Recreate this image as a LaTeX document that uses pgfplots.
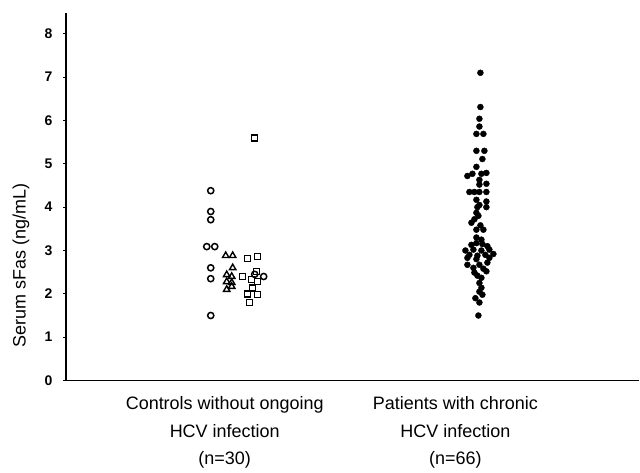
\documentclass[border=0pt]{standalone}
\usepackage{pgfplots}
\pgfplotsset{compat=1.18}
\usepackage{fontspec}
\setmainfont{Liberation Sans}
\begin{document}
\begin{tikzpicture}
\begin{axis}[
  scale only axis,
  width=574pt, height=368pt,
  xmin=66, xmax=640, ymin=0, ymax=8.48,
  axis x line=bottom, axis y line=left,
  axis line style={-, line width=1.6pt},
  ytick={0,1,2,3,4,5,6,7,8},
  yticklabel style={font=\fontsize{14}{14}\selectfont\bfseries, xshift=-7pt},
  /pgf/number format/assume math mode=true,
  y tick style={line width=1.2pt, black},
  tick align=outside, major tick length=3pt,
  xtick={225,456},
  xticklabels={{Controls without ongoing\\HCV infection\\(n=30)},{Patients with chronic\\HCV infection\\(n=66)}},
  x tick style={draw=none},
  xticklabel style={align=center, font=\fontsize{18}{28}\selectfont, yshift=-9pt},
  ylabel={Serum sFas (ng/mL)},
  ylabel style={at={(axis description cs:0,0.3125)}, anchor=center, yshift=45pt, font=\fontsize{18}{18}\selectfont},
  clip=false,
]
% controls: circles
\addplot[only marks, mark=o, mark size=3.1pt, mark options={line width=1.5pt, black}] coordinates {
(211,4.38) (211,3.9) (211,3.71) (207,3.09) (215,3.09) (211,2.6) (211,2.35) (211,1.5)
(264,2.4) (255,2.45)
};
% controls: triangles
\addplot[only marks, mark=triangle, mark size=3.7pt, mark options={line width=1.4pt, black}] coordinates {
(226,2.88) (233,2.88) (233,2.6) (227,2.44) (232,2.4) (227,2.28) (232,2.26) (227,2.1) (232,2.17)
};
% controls: squares
\addplot[only marks, mark=square, mark size=3pt, mark options={line width=1.5pt, black}] coordinates {
(255,5.6) (248,2.81) (258,2.86) (243,2.4) (257,2.51) (252,2.33) (258,2.28) (253,2.14) (248,2.0) (258,1.98) (250,1.8)
};
% patients
\addplot[only marks, mark=*, mark size=3pt, mark options={black, fill=black}] coordinates {
(481,7.1) (481,6.31) (480,6.04) (480,5.86) (477,5.69) (484,5.69) (477,5.3) (485,5.3) (483,5.11) (477,4.93)
(487,4.79) (482,4.77) (473,4.77) (468,4.72) (480,4.63) (487,4.54) (480,4.52)
(470,4.35) (475,4.35) (480,4.35) (487,4.35) (477,4.17) (487,4.13) (480,4.05) (478,4.0) (487,4.0)
(477,3.87) (479,3.8) (475,3.72) (472,3.64) (481,3.58) (477,3.48) (484,3.48) (477,3.3) (482,3.25)
(472,3.13) (477,3.17) (483,3.15) (488,3.1) (466,3.0) (474,3.02) (482,3.0) (490,3.02)
(470,2.9) (478,2.88) (486,2.9) (494,2.92) (468,2.83) (477,2.8) (490,2.83)
(468,2.67) (480,2.67) (488,2.72) (474,2.6) (484,2.58) (475,2.49) (487,2.52) (478,2.42) (482,2.37)
(480,2.25) (482,2.14) (480,2.05) (483,1.98) (476,1.9) (480,1.8) (479,1.5)
};
\end{axis}
\useasboundingbox ([xshift=-66pt,yshift=-87pt]current axis.south west) rectangle ([yshift=13pt]current axis.north east);
\end{tikzpicture}
\end{document}
